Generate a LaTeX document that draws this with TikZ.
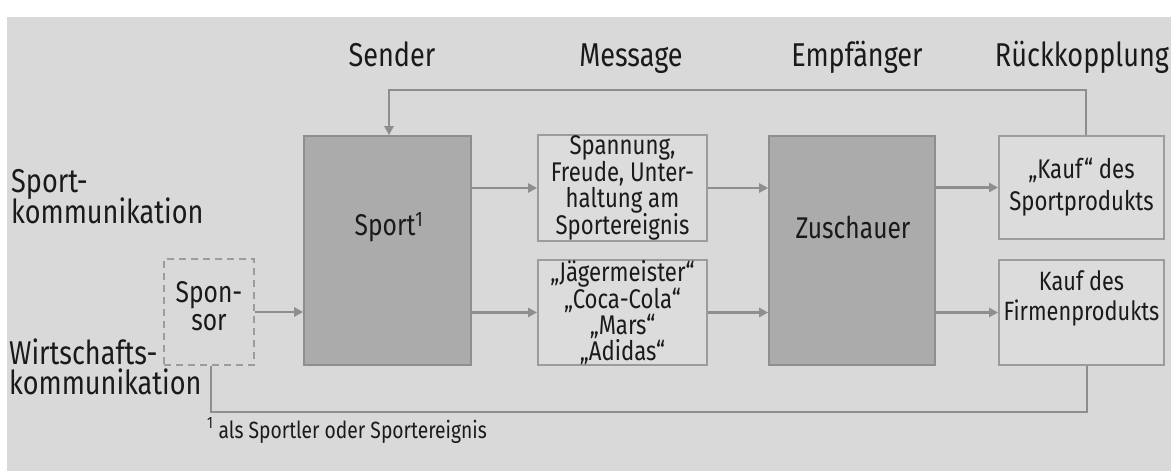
\documentclass[tikz,border=0pt]{standalone}
\usepackage{fontspec}
\setmainfont{Fira Sans}[FakeStretch=0.82]
\usetikzlibrary{arrows.meta,calc}
\definecolor{panel}{HTML}{D9D9D9}
\definecolor{lightfill}{HTML}{DCDCDC}
\definecolor{dark}{HTML}{ABABAB}
\definecolor{edge}{HTML}{9C9C9C}
\definecolor{conn}{HTML}{8E8E8E}
\definecolor{ink}{HTML}{1A1A1A}
\begin{document}
\begin{tikzpicture}[x=1pt,y=-1pt,
  lightbox/.style={draw=edge, line width=1.8pt, fill=lightfill, inner sep=0pt, text=ink},
  darkbox/.style={draw=conn, line width=1.6pt, fill=dark, inner sep=0pt},
  sponsorbox/.style={draw=edge, dash pattern=on 7pt off 5pt, line width=1.8pt, inner sep=0pt},
  conn/.style={draw=conn, line width=2.5pt},
  arr/.style={conn, -{Triangle[length=9pt,width=9pt]}},
  head/.style={font=\fontsize{33}{36}\selectfont, text=ink, anchor=base, inner sep=0pt},
  side/.style={font=\fontsize{33}{36}\selectfont, text=ink, anchor=base west, inner sep=0pt},
  boxtext/.style={font=\fontsize{27}{23.5}\selectfont, align=center, text=ink},
  bigtext/.style={font=\fontsize{30}{28}\selectfont, align=center, text=ink, inner sep=0pt}
]
\useasboundingbox (0,0) rectangle (1176,471);
\fill[white] (0,0) rectangle (1176,471);
\fill[panel] (7,17) rectangle (1171,471);

% headers
\node[head] (hsender) at (392,66) {Sender};
\node[head] (hmessage) at (631,66) {Message};
\node[head] (hempf) at (857,66) {Empfänger};
\node[head] (hrueck) at (1082,66) {Rückkopplung};

% side labels
\node[side] (sk1) at (11,192) {Sport-};
\node[side] (sk2) at (11,223) {kommunikation};
\node[side] (wk1) at (9,364) {Wirtschafts-};
\node[side] (wk2) at (9,394) {kommunikation};

% boxes
\node[darkbox, minimum width=167, minimum height=229] (sport) at (387.5,250.5) {};
\node[bigtext] (sportt) at (389,227) {Sport\textsuperscript{1}};
\node[darkbox, minimum width=166, minimum height=229] (zus) at (852,250.5) {};
\node[bigtext] (zust) at (853,227) {Zuschauer};

\node[lightbox, boxtext, minimum width=169, minimum height=102] (msg1) at (622.5,188)
  {Spannung,\\Freude, Unter-\\haltung am\\Sportereignis};
\node[lightbox, boxtext, minimum width=169, minimum height=105] (msg2) at (622.5,312.5)
  {„Jägermeister“\\„Coca-Cola“\\„Mars“\\„Adidas“};

\node[lightbox, font=\fontsize{27}{32}\selectfont, align=center, minimum width=165, minimum height=103] (kauf1) at (1081.5,187.5)
  {„Kauf“ des\\Sportprodukts};
\node[lightbox, minimum width=165, minimum height=105] (kauf2) at (1081.5,312.5) {};
\node[font=\fontsize{26.5}{30}\selectfont, align=center, text=ink, inner sep=0pt] (kauf2t) at (1081.5,298)
  {Kauf des\\Firmenprodukts};

\node[sponsorbox, minimum width=90, minimum height=106] (sponsor) at (209,312) {};
\node[bigtext] (spont) at (209,306) {Spon-\\sor};

% connectors
\draw[arr] (sponsor.east) -- (sponsor.east -| sport.west);
\draw[arr] (msg1.west -| sport.east) -- (msg1.west);
\draw[arr] (msg2.west -| sport.east) -- (msg2.west);
\draw[arr] (msg1.east) -- (msg1.east -| zus.west);
\draw[arr] (msg2.east) -- (msg2.east -| zus.west);
\draw[arr] (kauf1.west -| zus.east) -- (kauf1.west);
\draw[arr] (kauf2.west -| zus.east) -- (kauf2.west);

\draw[arr] ([xshift=4.5pt]kauf1.north) -- ++(0,-45) -| ([xshift=1.5pt]sport.north);
\draw[conn] ([xshift=5.5pt]kauf2.south) -- ++(0,46) -| ([xshift=2pt]sponsor.south);

% footnote
\node[anchor=base west, font=\fontsize{23.5}{25}\selectfont, text=ink, inner sep=0pt] (fn) at (207,438)
  {\textsuperscript{1} als Sportler oder Sportereignis};
\end{tikzpicture}
\end{document}
